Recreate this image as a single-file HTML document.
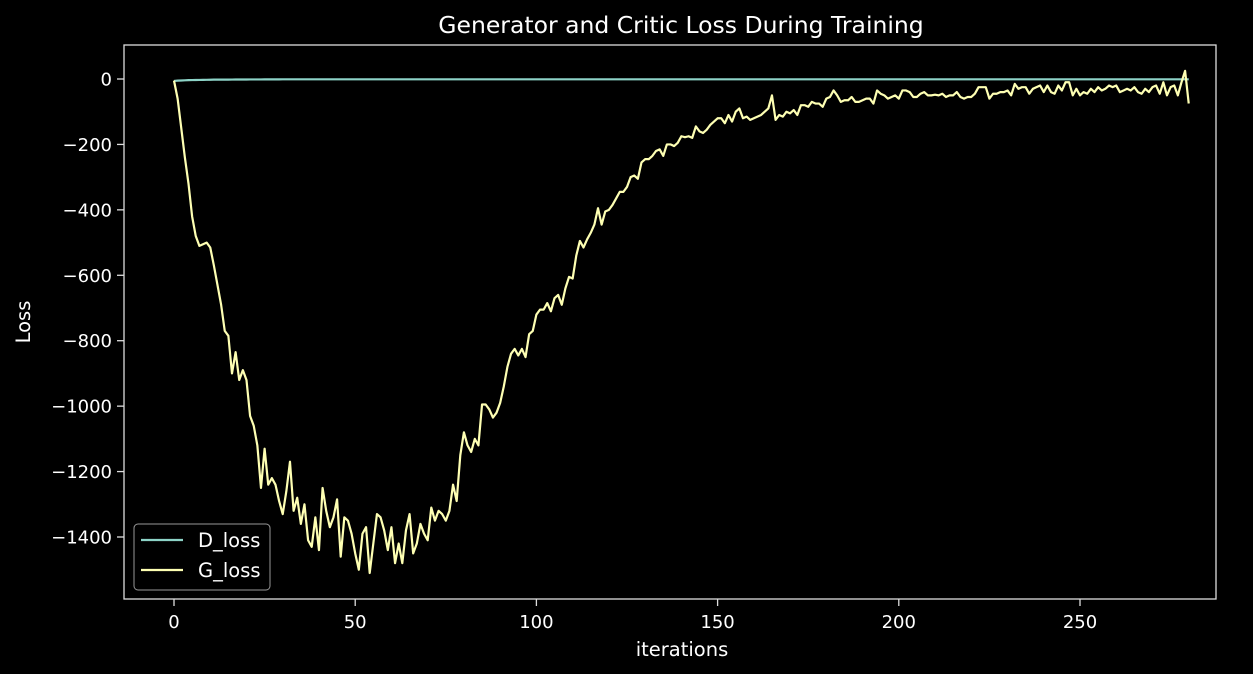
<!DOCTYPE html>
<html><head><meta charset="utf-8"><style>
html,body{margin:0;padding:0;background:#000;}
svg{display:block;font-family:"DejaVu Sans","Liberation Sans",sans-serif;}
</style></head><body>
<svg id="chart" width="1253" height="674" viewBox="0 0 1253 674">
<rect x="0" y="0" width="1253" height="674" fill="#000"/>
<text x="681" y="33" fill="#fff" font-size="23.5" text-anchor="middle">Generator and Critic Loss During Training</text>
<g id="ticks"></g>
<g id="lines"></g>
<rect x="124" y="45" width="1092" height="554" fill="none" stroke="#ddd" stroke-width="1.3"/>
<text x="682" y="656" fill="#fff" font-size="19.5" text-anchor="middle">iterations</text>
<text x="30" y="322" fill="#fff" font-size="19.5" text-anchor="middle" transform="rotate(-90 30 322)">Loss</text>
<g>
<rect x="134" y="524" width="136" height="66" rx="4" fill="#000" stroke="#999" stroke-width="1"/>
<line x1="141" y1="540" x2="183" y2="540" stroke="#8dd3c7" stroke-width="2.2"/>
<text x="198" y="547" fill="#fff" font-size="19.5">D_loss</text>
<line x1="141" y1="570" x2="183" y2="570" stroke="#feffb3" stroke-width="2.2"/>
<text x="198" y="577" fill="#fff" font-size="19.5">G_loss</text>
</g>
</svg>
<script>
const xTicks=[0,50,100,150,200,250];
const yTicks=[0,-200,-400,-600,-800,-1000,-1200,-1400];
const gLoss=[-5,-60,-150,-240,-320,-420,-480,-510,-505,-500,-515,-570,-630,-690,-770,-785,-900,-835,-920,-890,
-920,-1030,-1060,-1120,-1250,-1130,-1240,-1220,-1240,-1290,-1330,-1260,-1170,-1320,-1280,-1360,-1300,-1410,-1430,-1340,
-1440,-1250,-1320,-1370,-1340,-1285,-1460,-1340,-1350,-1390,-1450,-1500,-1390,-1370,-1510,-1420,-1330,-1340,-1380,-1440,
-1370,-1480,-1420,-1480,-1380,-1330,-1450,-1420,-1360,-1390,-1410,-1310,-1350,-1320,-1330,-1350,-1320,-1240,-1290,-1150,
-1080,-1120,-1140,-1100,-1120,-995,-995,-1010,-1035,-1020,-990,-940,-880,-840,-825,-845,-825,-850,-780,-770,
-720,-705,-705,-685,-710,-670,-660,-690,-640,-605,-610,-540,-495,-515,-490,-470,-445,-395,-445,-405,
-400,-385,-365,-345,-345,-330,-300,-295,-305,-255,-245,-245,-235,-220,-215,-235,-200,-200,-205,-195,
-175,-178,-175,-180,-145,-160,-165,-155,-140,-130,-120,-120,-135,-110,-130,-100,-90,-120,-115,-125,
-120,-115,-110,-100,-90,-50,-125,-110,-115,-100,-105,-95,-110,-80,-80,-85,-70,-75,-75,-85,
-60,-55,-35,-50,-70,-65,-65,-55,-70,-70,-65,-60,-60,-75,-35,-45,-50,-60,-55,-50,
-60,-35,-35,-40,-55,-55,-45,-40,-50,-50,-48,-50,-45,-55,-50,-50,-40,-55,-60,-55,
-55,-45,-25,-25,-25,-60,-45,-45,-40,-40,-35,-50,-15,-30,-25,-25,-45,-30,-25,-20,
-40,-20,-40,-45,-20,-35,-10,-10,-50,-30,-50,-40,-45,-30,-40,-25,-35,-30,-20,-25,
-20,-40,-35,-30,-35,-25,-40,-45,-30,-40,-25,-20,-45,-10,-50,-25,-20,-50,-10,25,-75];
const dLoss=[-6,-5,-4.5,-4,-3.5,-3.2,-3,-2.8,-2.6,-2.4,-2.2,-2,-2,-1.9,-1.8,-1.8,-1.7,-1.6,-1.6,-1.5,
-1.5,-1.4,-1.4,-1.3,-1.3,-1.2,-1.2,-1.2,-1.1,-1.1,-1,-1,-1,-1,-1,-1,-1,-1,-1,-1,
-1,-1,-1,-1,-1,-1,-1,-1,-1,-1,-1,-1,-1,-1,-1,-1,-1,-1,-1,-1,-1,-1,-1,-1,-1,-1,-1,-1,-1,-1,
-1,-1,-1,-1,-1,-1,-1,-1,-1,-1,-1,-1,-1,-1,-1,-1,-1,-1,-1,-1,-1,-1,-1,-1,-1,-1,-1,-1,-1,-1,
-1,-1,-1,-1,-1,-1,-1,-1,-1,-1,-1,-1,-1,-1,-1,-1,-1,-1,-1,-1,-1,-1,-1,-1,-1,-1,-1,-1,-1,-1,
-1,-1,-1,-1,-1,-1,-1,-1,-1,-1,-1,-1,-1,-1,-1,-1,-1,-1,-1,-1,-1,-1,-1,-1,-1,-1,-1,-1,-1,-1,
-1,-1,-1,-1,-1,-1,-1,-1,-1,-1,-1,-1,-1,-1,-1,-1,-1,-1,-1,-1,-1,-1,-1,-1,-1,-1,-1,-1,-1,-1,
-1,-1,-1,-1,-1,-1,-1,-1,-1,-1,-1,-1,-1,-1,-1,-1,-1,-1,-1,-1,-1,-1,-1,-1,-1,-1,-1,-1,-1,-1,
-1,-1,-1,-1,-1,-1,-1,-1,-1,-1,-1,-1,-1,-1,-1,-1,-1,-1,-1,-1,-1,-1,-1,-1,-1,-1,-1,-1,-1,-1,
-1,-1,-1,-1,-1,-1,-1,-1,-1,-1,-1,-1,-1,-1,-1,-1,-1,-1,-1,-1,-1,-1,-1,-1,-1,-1,-1,-1,-1,-1,-1];
const NS='http://www.w3.org/2000/svg';
function xs(v){return 174+v*(1080-174)/250;}
function ys(v){return 79+(-v)*(537-79)/1400;}
const tk=document.getElementById('ticks');
xTicks.forEach(t=>{
  const l=document.createElementNS(NS,'line');
  l.setAttribute('x1',xs(t));l.setAttribute('x2',xs(t));l.setAttribute('y1',599);l.setAttribute('y2',606);
  l.setAttribute('stroke','#ddd');l.setAttribute('stroke-width','1.3');
  
  
  tk.appendChild(l);
  const tx=document.createElementNS(NS,'text');
  tx.setAttribute('x',xs(t));tx.setAttribute('y',628);tx.setAttribute('fill','#fff');
  tx.setAttribute('font-size','18');tx.setAttribute('text-anchor','middle');
  tx.textContent=t;
  
  
  tk.appendChild(tx);
});
yTicks.forEach(t=>{
  const l=document.createElementNS(NS,'line');
  l.setAttribute('x1',117);l.setAttribute('x2',124);l.setAttribute('y1',ys(t));l.setAttribute('y2',ys(t));
  l.setAttribute('stroke','#ddd');l.setAttribute('stroke-width','1.3');
  
  
  tk.appendChild(l);
  const tx=document.createElementNS(NS,'text');
  tx.setAttribute('x',112);tx.setAttribute('y',ys(t)+6.5);tx.setAttribute('fill','#fff');
  tx.setAttribute('font-size','18');tx.setAttribute('text-anchor','end');
  tx.textContent=t<0?'\u2212'+(-t):String(t);
  
  
  tk.appendChild(tx);
});
const lg=document.getElementById('lines');
function drawLine(arr,color,name){
  const p=document.createElementNS(NS,'polyline');
  p.setAttribute('points',arr.map((v,i)=>xs(i).toFixed(2)+','+ys(v).toFixed(2)).join(' '));
  p.setAttribute('fill','none');p.setAttribute('stroke',color);p.setAttribute('stroke-width','2.2');
  p.setAttribute('stroke-linejoin','round');
  
  
  lg.appendChild(p);
}
drawLine(dLoss,'#8dd3c7','d-loss-line');
drawLine(gLoss,'#feffb3','g-loss-line');
</script>
</body></html>
